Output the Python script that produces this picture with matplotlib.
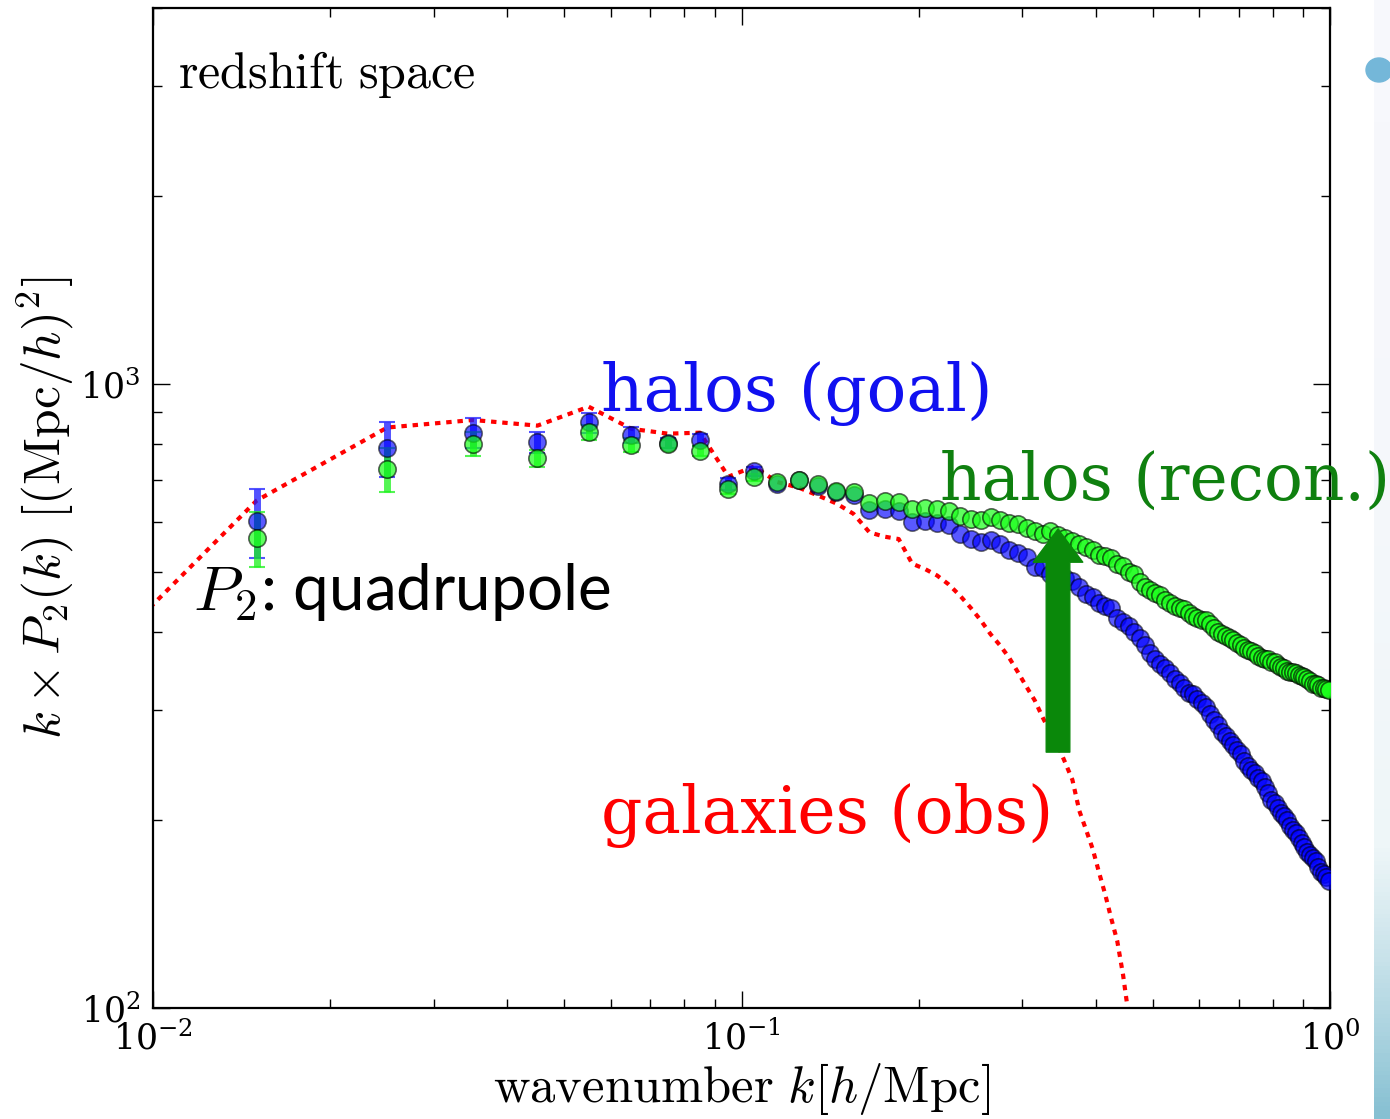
import numpy as np
import matplotlib
matplotlib.use("Agg")
import matplotlib.pyplot as plt
from matplotlib.patches import FancyArrowPatch, Ellipse

plt.rcParams['mathtext.fontset'] = 'cm'
plt.rcParams['font.family'] = 'DejaVu Serif'

# wavenumber bins (h/Mpc)
k_halo = [0.015, 0.025, 0.035, 0.045, 0.055, 0.065, 0.075, 0.085, 0.095, 0.105,
          0.115, 0.125, 0.135, 0.145, 0.155, 0.165, 0.175, 0.185, 0.195, 0.205,
          0.215, 0.225, 0.235, 0.245, 0.255, 0.265, 0.275, 0.285, 0.295, 0.305,
          0.315, 0.325, 0.335, 0.345, 0.355, 0.365, 0.375, 0.385, 0.395, 0.405,
          0.415, 0.425, 0.435, 0.445, 0.455, 0.465, 0.475, 0.485, 0.495, 0.505,
          0.515, 0.525, 0.535, 0.545, 0.555, 0.565, 0.575, 0.585, 0.595, 0.605,
          0.615, 0.625, 0.635, 0.645, 0.655, 0.665, 0.675, 0.685, 0.695, 0.705,
          0.715, 0.725, 0.735, 0.745, 0.755, 0.765, 0.775, 0.785, 0.795, 0.805,
          0.815, 0.825, 0.835, 0.845, 0.855, 0.865, 0.875, 0.885, 0.895, 0.905,
          0.915, 0.925, 0.935, 0.945, 0.955, 0.965, 0.975, 0.985, 0.995]

# k * P2(k), halos (goal)
p2_goal = [602, 789, 834, 806, 867, 828, 805, 813, 691, 724,
           692, 700, 687, 671, 664, 628, 630, 626, 600, 602,
           599, 595, 575, 565, 557, 563, 553, 541, 535, 527,
           508, 506, 495, 489, 488, 484, 473, 461, 456, 446,
           441, 437, 421, 415, 409, 401, 392, 381, 370, 363,
           356, 350, 344, 336, 332, 326, 320, 318, 313, 308,
           304, 296, 289, 284, 277, 273, 268, 264, 259, 255,
           249, 244, 241, 238, 234, 231, 226, 221, 215, 213,
           209, 205, 203, 200, 196, 193, 191, 187, 184, 181,
           178, 176, 174, 172, 168, 165, 164, 162, 160]

# k * P2(k), halos (reconstructed)
p2_recon = [566, 730, 801, 760, 836, 799, 801, 781, 679, 708,
            697, 701, 691, 673, 672, 645, 650, 646, 631, 633,
            630, 626, 614, 608, 606, 612, 606, 598, 597, 588,
            580, 574, 582, 573, 567, 561, 553, 548, 541, 531,
            529, 525, 515, 510, 500, 495, 482, 473, 468, 463,
            458, 451, 445, 440, 438, 435, 430, 425, 421, 419,
            418, 412, 406, 401, 398, 394, 391, 388, 385, 381,
            378, 375, 373, 370, 367, 364, 363, 362, 359, 358,
            355, 352, 350, 347, 346, 345, 344, 341, 340, 339,
            336, 334, 331, 330, 329, 326, 325, 324, 323]

# error bars on the first bins
err_goal = [76, 80, 46, 30, 32, 25, 15, 17, 15, 12]
err_recon = [58, 60, 36, 24, 24, 20, 12, 15, 12, 10]

# galaxies (observed)
k_gal = [0.005, 0.015, 0.025, 0.035, 0.045, 0.055, 0.065, 0.075, 0.085, 0.095,
         0.105, 0.115, 0.125, 0.135, 0.145, 0.155, 0.165, 0.175, 0.185, 0.195,
         0.205, 0.215, 0.225, 0.235, 0.245, 0.255, 0.265, 0.275, 0.285, 0.295,
         0.305, 0.315, 0.325, 0.335, 0.345, 0.355, 0.365, 0.375, 0.385, 0.395,
         0.405, 0.415, 0.425, 0.435, 0.445, 0.455]
p2_gal = [230, 650, 851, 875, 857, 919, 847, 832, 835, 710,
          737, 696, 682, 662, 643, 619, 578, 569, 564, 515,
          505, 493, 477, 458, 438, 418, 397, 381, 364, 345,
          327, 311, 292, 276, 263, 247, 232, 207, 193, 180,
          165, 152, 139, 128, 113, 97]

fig = plt.figure(figsize=(13.9, 11.19), dpi=100)

# slide background strip on the right
bg = fig.add_axes([1374 / 1390, 0, 16 / 1390, 1], zorder=-5)
grad = np.linspace(0, 1, 256)[:, None] ** 2.5
bg.imshow(grad, aspect='auto', cmap=matplotlib.colors.LinearSegmentedColormap.from_list(
    'slide', ['#f7f8fc', '#eef6f8', '#86c0d2']), extent=[0, 1, 0, 1], origin='upper')
bg.axis('off')
fig.add_artist(Ellipse((1379 / 1390, 1 - 70 / 1119), 26 / 1390, 24 / 1119,
                       transform=fig.transFigure, color='#74b7d9', zorder=5))

ax = fig.add_axes([153 / 1390, 1 - 1008 / 1119, 1177 / 1390, 1000 / 1119])

ax.plot(k_gal, p2_gal, color='red', lw=3.0, linestyle=(0, (1.3, 1.4)), zorder=2)

n_err = len(err_goal)
ax.errorbar(k_halo[:n_err], p2_goal[:n_err], yerr=err_goal, fmt='none',
            ecolor=(0.1, 0.1, 1.0, 0.75), elinewidth=5, capsize=6, capthick=1.5, zorder=3)
ax.errorbar(k_halo[:n_err], p2_recon[:n_err], yerr=err_recon, fmt='none',
            ecolor=(0.1, 0.95, 0.1, 0.75), elinewidth=5, capsize=6, capthick=1.5, zorder=3)

ax.plot(k_halo, p2_goal, 'o', ms=12.5, mfc=(0.0, 0.0, 1.0, 0.65), mec=(0, 0, 0, 0.55),
        mew=1.2, zorder=4)
ax.plot(k_halo, p2_recon, 'o', ms=12.5, mfc=(0.1, 1.0, 0.1, 0.7), mec=(0, 0, 0, 0.6),
        mew=1.2, zorder=5)

ax.set_xscale('log')
ax.set_yscale('log')
ax.set_xlim(0.01, 1.0)
ax.set_ylim(100, 4000)

ax.tick_params(which='both', direction='in', top=True, right=True, labelsize=25, pad=9)
ax.tick_params(which='major', length=12, width=1.0)
ax.tick_params(which='minor', length=6.5, width=1.0)
for s in ax.spines.values():
    s.set_linewidth(1.6)

ax.set_xlabel(r'$\mathrm{wavenumber}\ k[h/\mathrm{Mpc}]$', fontsize=36.5, labelpad=3)
ax.set_ylabel(r'$k\times P_2(k)\ [(\mathrm{Mpc}/h)^2]$', fontsize=37, labelpad=4)

ax.text(0.021, 0.92, r'$\mathrm{redshift\ space}$', transform=ax.transAxes, fontsize=36)

ax.text(0.381, 0.597, 'halos (goal)', transform=ax.transAxes, color='#1010f0',
        fontsize=47.5, family='DejaVu Serif')
ax.text(0.669, 0.508, 'halos (recon.)', transform=ax.transAxes, color='#0f800f',
        fontsize=46.5, family='DejaVu Serif')
ax.text(0.381, 0.175, 'galaxies (obs)', transform=ax.transAxes, color='#ff0000',
        fontsize=46.5, family='DejaVu Serif')
ax.text(0.034, 0.398, r'$P_2$: quadrupole', transform=ax.transAxes, color='black',
        fontsize=46, family='Lato')

arrow = FancyArrowPatch((0.345, 257), (0.345, 585),
                        arrowstyle='simple,head_length=1.4,head_width=2.1,tail_width=1.0',
                        mutation_scale=17, color='#0a880a', shrinkA=0, shrinkB=0, zorder=6)
ax.add_patch(arrow)

fig.savefig('out.png', dpi=100)
